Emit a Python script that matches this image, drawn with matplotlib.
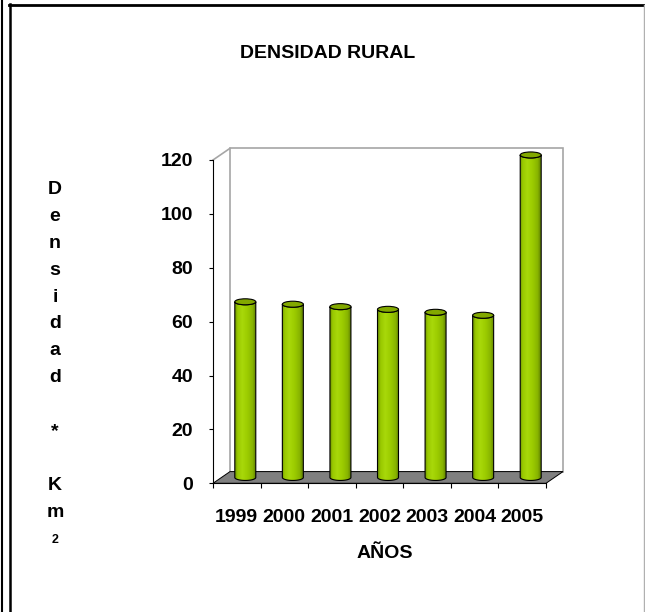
import numpy as np
import matplotlib
matplotlib.use("Agg")
import matplotlib.pyplot as plt
from matplotlib.patches import Polygon, Ellipse, PathPatch
from matplotlib.path import Path
from matplotlib.lines import Line2D
from matplotlib.colors import LinearSegmentedColormap

# ---- data ----
years = ["1999", "2000", "2001", "2002", "2003", "2004", "2005"]
densidad = [65.2, 64.3, 63.4, 62.4, 61.3, 60.2, 119.7]
y_ticks = [0, 20, 40, 60, 80, 100, 120]
title = "DENSIDAD RURAL"
x_label = "AÑOS"
y_label_chars = ["D", "e", "n", "s", "i", "d", "a", "d", "", "*", "", "K", "m"]
y_label_sup = "2"

plt.rcParams['font.family'] = ['Liberation Sans', 'DejaVu Sans']

W, H, DPI = 645, 612, 100
fig = plt.figure(figsize=(W / DPI, H / DPI), dpi=DPI)
fig.patch.set_facecolor('white')


def fx(px):
    return px / W


def fy(py):
    return 1 - py / H


ax_left, ax_right, ax_top, ax_bottom = 213, 546, 160, 483.3
ax = fig.add_axes([fx(ax_left), fy(ax_bottom), (ax_right - ax_left) / W,
                   (ax_bottom - ax_top) / H])
n = len(years)
ax.set_xlim(0, n)
ax.set_ylim(0, 120)
ax.patch.set_visible(False)
px_per_cat = (ax_right - ax_left) / n
px_per_val = (ax_bottom - ax_top) / 120
DX = 17 / px_per_cat
DY = 11.7 / px_per_val

wall_col = '#a6a6a6'
# back wall
ax.add_patch(Polygon([(DX, DY), (n + DX, DY), (n + DX, 120 + DY), (DX, 120 + DY)],
                     closed=True, facecolor='white', edgecolor=wall_col, lw=1.2,
                     clip_on=False, zorder=0.5))
# side wall top edge
ax.add_line(Line2D([0, DX], [120, 120 + DY], color=wall_col, lw=1.2,
                   clip_on=False, zorder=0.6))
# floor
ax.add_patch(Polygon([(0, 0), (n, 0), (n + DX, DY), (DX, DY)], closed=True,
                     facecolor='#808080', edgecolor='black', lw=0.7,
                     clip_on=False, zorder=0.8))

# cylinders
cmap = LinearSegmentedColormap.from_list(
    'cyl', [(0.0, '#6f9400'), (0.12, '#99c800'), (0.35, '#a8d80a'),
            (0.6, '#9ccc00'), (0.85, '#88b400'), (1.0, '#5f8000')])
grad = cmap(np.linspace(0, 1, 128))[None, :, :]
a = 10.5 / px_per_cat
b = 3.0 / px_per_val
y0 = DY / 2
t_low = np.linspace(np.pi, 2 * np.pi, 40)
t_top = np.linspace(0, -np.pi, 40)
for i, v in enumerate(densidad):
    cx = i + 0.5 + DX / 2
    top = v + y0
    verts = [(cx - a, top)]
    verts += [(cx + a * np.cos(t), y0 + b * np.sin(t)) for t in t_low]
    verts += [(cx + a * np.cos(t), top + b * np.sin(t)) for t in t_top]
    verts.append((cx - a, top))
    body = Path(verts, closed=True)
    body_patch = PathPatch(body, facecolor='none', edgecolor='black', lw=0.8,
                           clip_on=False, zorder=4)
    ax.add_patch(body_patch)
    im = ax.imshow(grad, extent=[cx - a, cx + a, y0 - b, top + b], aspect='auto',
                   interpolation='bilinear', zorder=3)
    im.set_clip_path(body_patch)
    im.set_clip_box(fig.bbox)
    ax.add_patch(Ellipse((cx, top), 2 * a, 2 * b, facecolor='#82a800',
                         edgecolor='black', lw=0.8, clip_on=False, zorder=5))

ax.set_xlim(0, n)
ax.set_ylim(0, 120)

# axes / ticks
for s in ['top', 'right']:
    ax.spines[s].set_visible(False)
ax.spines['left'].set_color('black')
ax.spines['left'].set_linewidth(0.8)
ax.spines['bottom'].set_color('black')
ax.spines['bottom'].set_linewidth(0.8)

ax.set_yticks(y_ticks)
ax.set_yticklabels([str(t) for t in y_ticks], fontsize=14, fontweight='bold')
ax.tick_params(axis='y', direction='out', length=2.9, width=0.8, pad=11.5)

ax.set_xticks(range(n + 1))
ax.set_xticklabels([])
ax.set_xticks(np.arange(n) + 0.5, minor=True)
ax.set_xticklabels(years, minor=True, fontsize=14, fontweight='bold')
ax.tick_params(axis='x', which='major', direction='out', length=3.6, width=0.8)
ax.tick_params(axis='x', which='minor', length=0, pad=18.5)

# texts
fig.text(fx(328), fy(58), title, ha='center', va='baseline', fontsize=14,
         fontweight='bold')
fig.text(fx(385), fy(558), x_label, ha='center', va='baseline', fontsize=14,
         fontweight='bold')
for i, ch in enumerate(y_label_chars):
    if ch:
        fig.text(fx(55), fy(194 + i * 26.9), ch, ha='center', va='baseline',
                 fontsize=14, fontweight='bold')
fig.text(fx(55), fy(543), y_label_sup, ha='center', va='baseline', fontsize=9,
         fontweight='bold')

# frame lines
fig.add_artist(Line2D([fx(2), fx(2)], [0, 1], color='black', lw=1.5,
                      transform=fig.transFigure))
fig.add_artist(Line2D([fx(10), fx(10)], [0, fy(4)], color='black', lw=1.8,
                      transform=fig.transFigure))
fig.add_artist(Line2D([fx(9), 1], [fy(5), fy(5)], color='black', lw=2.0,
                      transform=fig.transFigure))
fig.add_artist(Line2D([fx(644), fx(644)], [0, fy(5)], color='#b0b0b0', lw=1.0,
                      transform=fig.transFigure))

fig.savefig('out.png', dpi=DPI)
